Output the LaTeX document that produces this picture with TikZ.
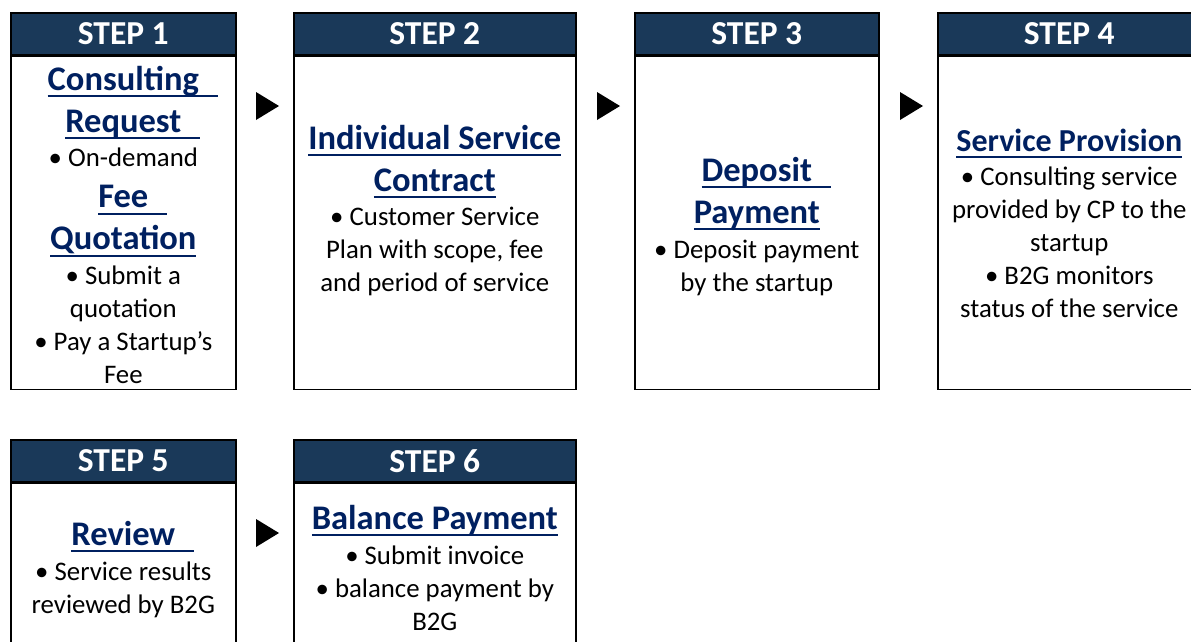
\documentclass[tikz,border=0pt]{standalone}
\usepackage{fontspec}
\setmainfont{Carlito}
\usetikzlibrary{positioning}
\definecolor{stephead}{RGB}{26,57,89}
\definecolor{titleblue}{RGB}{0,32,96}
\newsavebox\ttlbox
\newcommand\ttl[2][0pt]{\sbox\ttlbox{#2}\rlap{\rule[-7pt]{\dimexpr\wd\ttlbox+#1\relax}{2pt}}\usebox\ttlbox}
\begin{document}
\begin{tikzpicture}[x=1pt,y=-1pt]
  \tikzstyle{head}=[draw,line width=1.6pt,fill=stephead,text=white,inner sep=0pt,
    minimum height=42pt,anchor=north west,font=\fontsize{33.5}{36}\selectfont\bfseries]
  \tikzstyle{body}=[draw,line width=1.6pt,inner sep=0pt,anchor=north west]
  \tikzstyle{title}=[align=center,inner sep=0pt,text=titleblue,
    font=\fontsize{34.5}{42}\selectfont\bfseries,
    execute at begin node=\strut,execute at end node=\strut]
  \tikzstyle{bullets}=[align=center,inner sep=0pt,font=\fontsize{26.8}{33}\selectfont,
    execute at begin node=\strut,execute at end node=\strut]
  \useasboundingbox (0,0) rectangle (1191,641);
  % row 1
  \node[head,minimum width=225pt] (h1) at (10,12) {STEP 1};
  \node[body,minimum width=225pt,minimum height=333pt] (b1) at (h1.south west) {};
  \node[head,minimum width=282pt] (h2) at (293,12) {STEP 2};
  \node[body,minimum width=282pt,minimum height=333pt] (b2) at (h2.south west) {};
  \node[head,minimum width=244pt] (h3) at (634,12) {STEP 3};
  \node[body,minimum width=244pt,minimum height=333pt] (b3) at (h3.south west) {};
  \node[head,minimum width=263pt] (h4) at (937,12) {STEP 4};
  \node[body,minimum width=263pt,minimum height=333pt] (b4) at (h4.south west) {};
  % row 2
  \node[head,minimum width=225pt] (h5) at (10,439) {STEP 5};
  \node[body,minimum width=225pt,minimum height=220pt] (b5) at (h5.south west) {};
  \node[head,minimum width=282pt] (h6) at (293,439) {STEP 6};
  \node[body,minimum width=282pt,minimum height=220pt] (b6) at (h6.south west) {};
  % texts
  \node[title,below=10pt of h1] (t1) {\ttl[19pt]{Consulting}\\\ttl[19pt]{Request}};
  \node[bullets,below=-2pt of t1] (d1) {• On-demand};
  \node[title,below=9pt of d1] (t1b) {\ttl[19pt]{Fee}\\\ttl{Quotation}};
  \node[bullets,below=3pt of t1b] (d1b) {• Submit a\\quotation\\• Pay a Startup’s\\Fee};
  \node[title,below=69pt of h2] (t2) {\ttl{Individual Service}\\\ttl{Contract}};
  \node[bullets,below=3pt of t2] (d2) {• Customer Service\\Plan with scope, fee\\and period of service};
  \node[title,below=101pt of h3] (t3) {\ttl[19pt]{Deposit}\\\ttl{Payment}};
  \node[bullets,below=4pt of t3] (d3) {• Deposit payment\\by the startup};
  \node[title,font=\fontsize{32}{42}\selectfont\bfseries,below=66pt of h4] (t4) {\ttl{Service Provision}};
  \node[bullets,below=3pt of t4] (d4) {• Consulting service\\provided by CP to the\\startup\\• B2G monitors\\status of the service};
  \node[title,below=33pt of h5] (t5) {\ttl[19pt]{Review}};
  \node[bullets,below=4pt of t5] (d5) {• Service results\\reviewed by B2G};
  \node[title,below=17pt of h6] (t6) {\ttl{Balance Payment}};
  \node[bullets,below=4pt of t6] (d6) {• Submit invoice\\• balance payment by\\B2G};
  % arrow heads between steps
  \foreach \x/\y in {256/106,597/106,900/106,256/533}
    \fill (\x,\y-14) -- (\x+23,\y) -- (\x,\y+14) -- cycle;
\end{tikzpicture}
\end{document}
